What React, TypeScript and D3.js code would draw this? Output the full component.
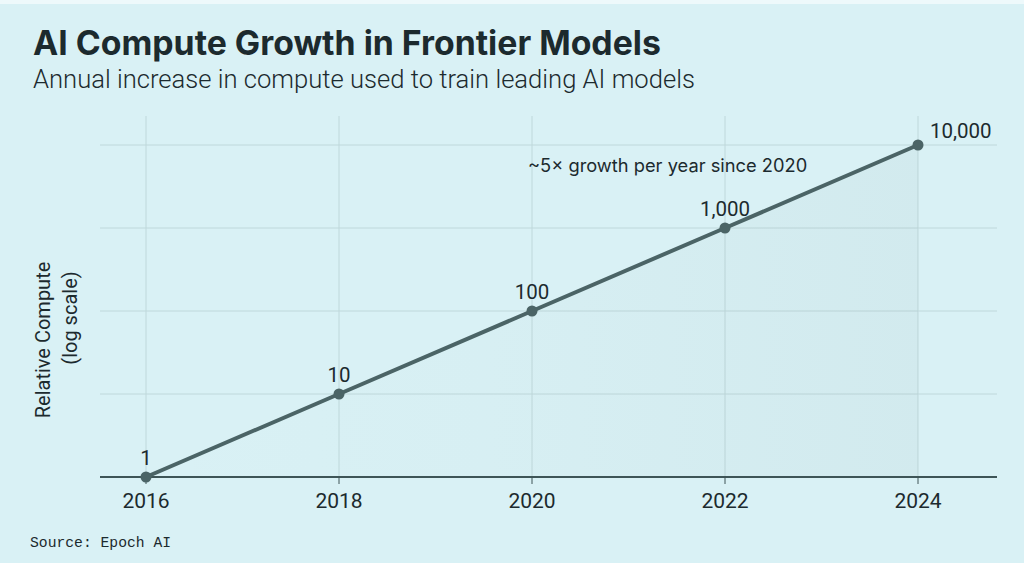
import React from "react";
import * as d3 from "d3";

const years = [2016, 2018, 2020, 2022, 2024];
const compute = [1, 10, 100, 1000, 10000];
const pointLabels = ["1", "10", "100", "1,000", "10,000"];
const xTickLabels = ["2016", "2018", "2020", "2022", "2024"];
const yGridValues = [10, 100, 1000, 10000];

const W = 1024;
const H = 563;

export default function App() {
  const x = d3.scaleLinear().domain([2016, 2024]).range([146, 918]);
  const y = d3.scaleLog().domain([1, 10000]).range([477, 145]);
  const pts = years.map((yr, i) => ({ yr, v: compute[i], label: pointLabels[i] }));
  const line = d3
    .line<{ yr: number; v: number }>()
    .x((d) => x(d.yr))
    .y((d) => y(d.v));
  const area = d3
    .area<{ yr: number; v: number }>()
    .x((d) => x(d.yr))
    .y0(477)
    .y1((d) => y(d.v));
  const font = "Inter, 'Noto Sans', sans-serif";
  const roboto = "Roboto, sans-serif";
  const textColor = "#1c2a2e";
  return (
    <svg
      width={W}
      height={H}
      style={{ position: "absolute", left: 0, top: 0 }}
      fontFamily={font}
    >
      <defs>
        <linearGradient id="ag" x1="0" y1="0" x2="1" y2="0">
          <stop offset="0" stopColor="#4d6a6c" stopOpacity={0} />
          <stop offset="0.45" stopColor="#4d6a6c" stopOpacity={0.015} />
          <stop offset="1" stopColor="#4d6a6c" stopOpacity={0.05} />
        </linearGradient>
      </defs>
      <rect x={0} y={0} width={W} height={H} fill="#d9f1f5" />
      <rect x={0} y={0} width={W} height={4} fill="#eef9fb" />

      <text x={33} y={55} fontSize={33.8} fontWeight={700} fill={textColor}>
        AI Compute Growth in Frontier Models
      </text>
      <text x={33} y={88} fontSize={25.6} fontWeight={300} fill={textColor} fontFamily={roboto}>
        Annual increase in compute used to train leading AI models
      </text>

      {years.map((yr) => (
        <line key={"vg" + yr} x1={x(yr)} x2={x(yr)} y1={116} y2={477} stroke="#bfd8db" strokeWidth={1} />
      ))}
      {yGridValues.map((v) => (
        <line key={"hg" + v} x1={100} x2={997} y1={y(v)} y2={y(v)} stroke="#bfd8db" strokeWidth={1} />
      ))}

      <path d={area(pts) || ""} fill="url(#ag)" />

      <line x1={100} x2={997} y1={477} y2={477} stroke="#3e5557" strokeWidth={2} />
      {years.map((yr, i) => (
        <g key={"xt" + yr}>
          <line x1={x(yr)} x2={x(yr)} y1={477} y2={484} stroke="#3e5557" strokeWidth={1} />
          <text x={x(yr)} y={508} textAnchor="middle" fontSize={21} fill={textColor} fontFamily={roboto}>
            {xTickLabels[i]}
          </text>
        </g>
      ))}

      <path d={line(pts) || ""} fill="none" stroke="#4b6466" strokeWidth={4} strokeLinecap="round" />
      {pts.map((p) => (
        <circle key={"c" + p.yr} cx={x(p.yr)} cy={y(p.v)} r={5.5} fill="#4b6466" />
      ))}
      {pts.map((p, i) =>
        i === pts.length - 1 ? (
          <text key={"l" + p.yr} x={x(p.yr) + 12} y={y(p.v) - 7} fontSize={20.5} fill={textColor} fontFamily={roboto}>
            {p.label}
          </text>
        ) : (
          <text key={"l" + p.yr} x={x(p.yr)} y={y(p.v) - 12} textAnchor="middle" fontSize={20.5} fill={textColor} fontFamily={roboto}>
            {p.label}
          </text>
        )
      )}

      <text x={528} y={172} fontSize={18.3} fill={textColor}>
        ~5× growth per year since 2020
      </text>

      <text transform="translate(50,340) rotate(-90)" textAnchor="middle" fontSize={20} fill={textColor} fontFamily={roboto}>
        Relative Compute
      </text>
      <text transform="translate(77,318) rotate(-90)" textAnchor="middle" fontSize={20} fill={textColor} fontFamily={roboto}>
        (log scale)
      </text>

      <text x={30} y={547} fontSize={14.7} fill={textColor} fontFamily="'Liberation Mono', monospace">
        Source: Epoch AI
      </text>
    </svg>
  );
}
